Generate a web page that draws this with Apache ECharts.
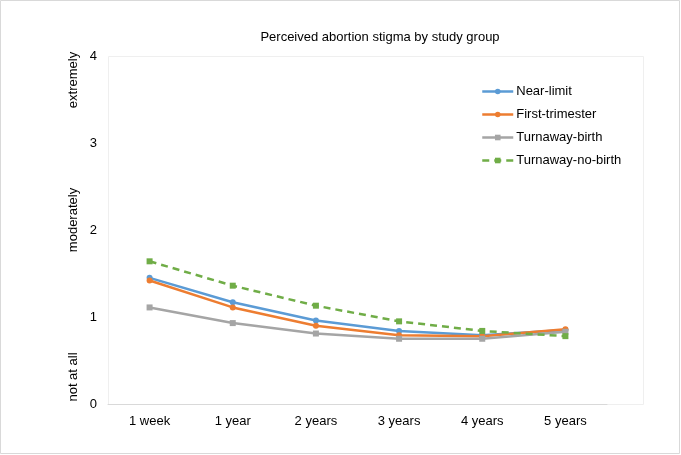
<!DOCTYPE html>
<html><head><meta charset="utf-8">
<script src="https://cdn.jsdelivr.net/npm/echarts@6/dist/echarts.min.js"></script>
<style>html,body{margin:0;padding:0;background:#fff}#c{width:681px;height:455px}</style>
</head><body><div id="c"></div>
<script>
var categories = ['1 week','1 year','2 years','3 years','4 years','5 years'];
var nearLimit = [1.45, 1.17, 0.96, 0.84, 0.79, 0.85];
var firstTrimester = [1.42, 1.11, 0.90, 0.79, 0.78, 0.86];
var turnawayBirth = [1.11, 0.93, 0.81, 0.75, 0.75, 0.83];
var turnawayNoBirth = [1.64, 1.36, 1.13, 0.95, 0.84, 0.78];
var yTicks = [0, 1, 2, 3, 4];
var yTitles = ['not at all', 'moderately', 'extremely'];

var chart = echarts.init(document.getElementById('c'));
var font = 'Liberation Sans, Arial, sans-serif';
function ser(name, data, color, symbol, dashed) {
  return {
    name: name, type: 'line', data: data, symbol: symbol, symbolSize: 6,
    itemStyle: { color: color },
    lineStyle: { color: color, width: 2.5, type: dashed ? [7, 5] : 'solid' },
    emphasis: { disabled: true }
  };
}
chart.setOption({
  animation: false,
  backgroundColor: '#fff',
  title: { text: 'Perceived abortion stigma by study group', left: 375, textAlign: 'center', top: 26,
    textStyle: { fontFamily: font, fontSize: 13, fontWeight: 'normal', color: '#000' } },
  legend: {
    orient: 'vertical', left: 481, top: 85, padding: 0, itemWidth: 31, itemHeight: 7, itemGap: 10,
    lineStyle: { width: 2.5 },
    textStyle: { fontFamily: font, fontSize: 13, color: '#000', padding: [0, 0, 0, -2] },
    data: ['Near-limit', 'First-trimester', 'Turnaway-birth', 'Turnaway-no-birth']
  },
  grid: { left: 108, right: 74, top: 56, bottom: 51 },
  xAxis: {
    type: 'category', data: categories, boundaryGap: true,
    axisLine: { lineStyle: { color: '#d9d9d9', width: 1 } },
    axisTick: { show: false },
    axisLabel: { fontFamily: font, fontSize: 13, color: '#000', margin: 11 }
  },
  yAxis: {
    type: 'value', min: yTicks[0], max: yTicks[yTicks.length - 1], interval: 1,
    axisLine: { show: false }, axisTick: { show: false }, splitLine: { show: false },
    axisLabel: { fontFamily: font, fontSize: 13, color: '#000', margin: 11 }
  },
  graphic: [
    { type: 'rect', shape: { x: 108.5, y: 56.5, width: 535, height: 348 }, style: { fill: 'none', stroke: '#efefef', lineWidth: 1 }, z: -1 },
    { type: 'rect', shape: { x: 0.5, y: 0.5, width: 679, height: 453 }, style: { fill: 'none', stroke: '#d9d9d9', lineWidth: 1 }, z: -1 },
    { type: 'text', x: 73, y: 377, rotation: Math.PI / 2, style: { text: yTitles[0], font: '13px ' + font, fill: '#000', textAlign: 'center', textVerticalAlign: 'middle' } },
    { type: 'text', x: 73, y: 220, rotation: Math.PI / 2, style: { text: yTitles[1], font: '13px ' + font, fill: '#000', textAlign: 'center', textVerticalAlign: 'middle' } },
    { type: 'text', x: 73, y: 80, rotation: Math.PI / 2, style: { text: yTitles[2], font: '13px ' + font, fill: '#000', textAlign: 'center', textVerticalAlign: 'middle' } }
  ],
  series: [
    ser('Near-limit', nearLimit, '#5b9bd5', 'circle', false),
    ser('First-trimester', firstTrimester, '#ed7d31', 'circle', false),
    ser('Turnaway-birth', turnawayBirth, '#a5a5a5', 'rect', false),
    ser('Turnaway-no-birth', turnawayNoBirth, '#70ad47', 'rect', true)
  ]
});
</script></body></html>
